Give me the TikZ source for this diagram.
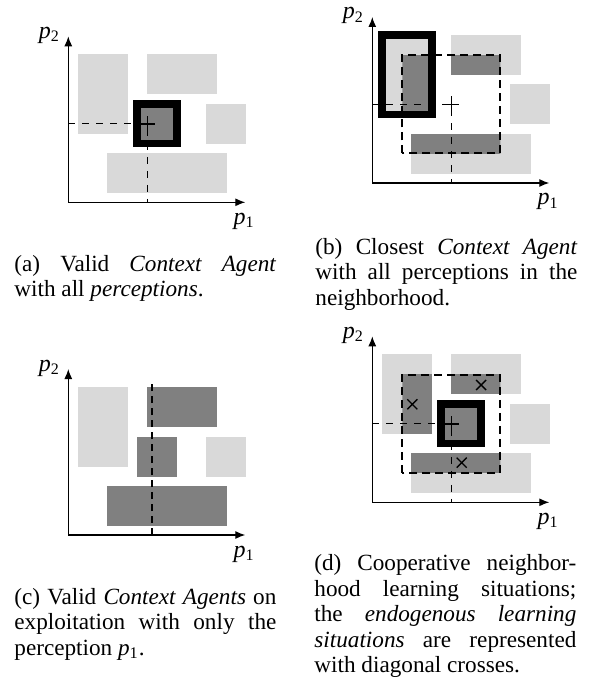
\documentclass[tikz,border=0pt]{standalone}
\usepackage{fontspec}
\setmainfont{Liberation Serif}
\usetikzlibrary{positioning, arrows.meta}

\newcommand{\pvar}[1]{\textit{p}\textsubscript{#1}}

\begin{document}
\begin{tikzpicture}[x=0.5pt, y=-0.5pt, >={Latex[length=5pt,width=4pt]},
    lightca/.style={fill=gray!30},
    darkca/.style={fill=gray},
    ctxframe/.style={draw=black, line width=3.75pt},
    nbh/.style={draw=black, line width=1pt, dash pattern=on 4pt off 2.5pt},
    guideline/.style={line width=0.5pt, dash pattern=on 3.5pt off 3.5pt},
    p1line/.style={line width=1.2pt, dash pattern=on 3.5pt off 2.5pt},
    axisline/.style={line width=0.6pt, <->},
    crosshair/.style={line width=0.8pt},
    crossmk/.style={line width=0.7pt},
    axlabel/.style={font=\fontsize{12}{14}\selectfont, inner sep=0pt},
    caption/.style={font=\fontsize{11.6}{12.75}\selectfont, text width=131pt, align=justify, inner sep=0pt, anchor=base west}]
    \useasboundingbox (0,0) rectangle (597,683);

    % (a) valid context agent
    \begin{scope}[shift={(68.3,202.3)}, yscale=-1]
        \fill[lightca] (9.5,68.5) rectangle (59.7,148);
        \fill[lightca] (78.5,108) rectangle (148.4,148);
        \fill[lightca] (137.5,58.5) rectangle (177.7,98.5);
        \fill[lightca] (39,9.3) rectangle (158.4,49.3);
        \draw[ctxframe, darkca] (68.75,58.75) rectangle (108.5,98.5);
        \draw[guideline] (0,78.5) -| (79,0);
        \draw[crosshair] (71,78.5) -- (87,78.5) (79,70.5) -- (79,86.5);
        \draw[axisline] (0,166) |- (177,0);
        \node[axlabel, anchor=base east] (a-p2) at (-8,164) {\pvar{2}};
        \node[axlabel, anchor=base west] (a-p1) at (165,-22) {\pvar{1}};
    \end{scope}
    \node[caption] (a-cap) at (14,271.5) {(a) Valid \textit{Context Agent}\linebreak with all \textit{perceptions}.};

    % (b) closest context agent
    \begin{scope}[shift={(372.3,183)}, yscale=-1]
        \fill[lightca] (9.5,68.5) rectangle (59.7,148);
        \fill[lightca] (78.5,108) rectangle (148.4,148);
        \fill[lightca] (137.5,58.5) rectangle (177.7,98.5);
        \fill[lightca] (39,9.3) rectangle (158.4,49.3);
        \begin{scope}
            \clip (30,29.5) rectangle (128,127.5);
            \fill[darkca] (9.5,68.5) rectangle (59.7,148);
            \fill[darkca] (78.5,108) rectangle (148.4,148);
            \fill[darkca] (39,9.3) rectangle (158.4,49.3);
        \end{scope}
        \draw[guideline] (0,78.5) -| (79,0);
        \draw[ctxframe] (9.5,68.5) rectangle (59.7,148);
        \draw[nbh] (30,29.5) rectangle (128,127.5);
        \draw[crosshair] (71,78.5) -- (87,78.5) (79,70.5) -- (79,86.5);
        \draw[axisline] (0,166) |- (177,0);
        \node[axlabel, anchor=base east] (b-p2) at (-8,164) {\pvar{2}};
        \node[axlabel, anchor=base west] (b-p1) at (165,-22) {\pvar{1}};
    \end{scope}
    \node[caption] (b-cap) at (315,254.5) {(b) Closest \textit{Context Agent}\linebreak with all perceptions in the\linebreak neighborhood.};

    % (c) exploitation with p1 only
    \begin{scope}[shift={(68.3,535)}, yscale=-1]
        \fill[lightca] (9.5,68.5) rectangle (59.7,148);
        \fill[darkca] (78.5,108) rectangle (148.4,148);
        \fill[lightca] (137.5,58.5) rectangle (177.7,98.5);
        \fill[darkca] (68.4,58.3) rectangle (108.7,98.5);
        \fill[darkca] (39,9.3) rectangle (158.4,49.3);
        \draw[p1line] (83.4,0) -- (83.4,151);
        \draw[axisline] (0,166) |- (177,0);
        \node[axlabel, anchor=base east] (c-p2) at (-8,164) {\pvar{2}};
        \node[axlabel, anchor=base west] (c-p1) at (165,-22) {\pvar{1}};
    \end{scope}
    \node[caption] (c-cap) at (14,604) {(c) Valid \textit{Context Agents} on\linebreak exploitation with only the\linebreak perception \pvar{1}.};

    % (d) cooperative neighborhood learning
    \begin{scope}[shift={(372.3,502.3)}, yscale=-1]
        \fill[lightca] (9.5,68.5) rectangle (59.7,148);
        \fill[lightca] (78.5,108) rectangle (148.4,148);
        \fill[lightca] (137.5,58.5) rectangle (177.7,98.5);
        \fill[lightca] (39,9.3) rectangle (158.4,49.3);
        \begin{scope}
            \clip (30,29.5) rectangle (128,127.5);
            \fill[darkca] (9.5,68.5) rectangle (59.7,148);
            \fill[darkca] (78.5,108) rectangle (148.4,148);
            \fill[darkca] (39,9.3) rectangle (158.4,49.3);
        \end{scope}
        \draw[ctxframe, darkca] (68.75,58.75) rectangle (108.5,98.5);
        \draw[guideline] (0,78.5) -| (79,0);
        \draw[nbh] (30,29.5) rectangle (128,127.5);
        \foreach \cx/\cy in {40/98, 108.7/117.3, 89.4/39.6}
            \draw[crossmk] (\cx,\cy) +(-5,-5) -- +(5,5) +(-5,5) -- +(5,-5);
        \draw[crosshair] (71,78.5) -- (87,78.5) (79,70.5) -- (79,86.5);
        \draw[axisline] (0,166) |- (177,0);
        \node[axlabel, anchor=base east] (d-p2) at (-8,164) {\pvar{2}};
        \node[axlabel, anchor=base west] (d-p1) at (165,-22) {\pvar{1}};
    \end{scope}
    \node[caption] (d-cap) at (314,570.5) {(d) Cooperative neighbor-\linebreak hood learning situations;\linebreak the \textit{endogenous learning}\linebreak \textit{situations} are represented\linebreak with diagonal crosses.};
\end{tikzpicture}
\end{document}
